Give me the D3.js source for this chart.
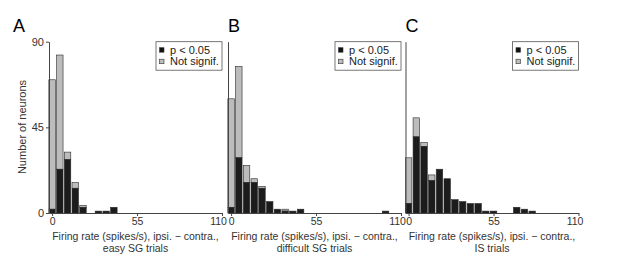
<!DOCTYPE html>
<html>
<head>
<meta charset="utf-8">
<script src="https://cdn.jsdelivr.net/npm/d3@7"></script>
<style>
  body { margin: 0; background: #fff; }
  svg { display: block; font-family: "Liberation Sans", Arial, sans-serif; }
</style>
</head>
<body>
<div id="chart"></div>
<script>
// bin centres (spikes/s), bin width 5
var bins = d3.range(0, 105, 5);

var panelLetters = ['A', 'B', 'C'];
var conditions = ['easy SG trials', 'difficult SG trials', 'IS trials'];

//            0   5  10  15  20  25 30 35 40 45 50 55 60 65 70 75 80 85 90 95 100
var sigA    = [2, 23, 28, 13,  3,  0, 1, 1, 3, 0, 0, 0, 0, 0, 0, 0, 0, 0, 0, 0, 0];
var notSigA = [68, 60, 4,  3,  1,  0, 0, 0, 0, 0, 0, 0, 0, 0, 0, 0, 0, 0, 0, 0, 0];
var sigB    = [3, 29, 16, 16, 13,  6, 2, 1, 1, 2, 0, 0, 0, 0, 0, 0, 0, 0, 0, 0, 1];
var notSigB = [57, 48, 9,  2,  1,  0, 0, 1, 0, 0, 0, 0, 0, 0, 0, 0, 0, 0, 0, 0, 0];
var sigC    = [5, 40, 35, 17, 23, 18, 7, 6, 5, 5, 1, 1, 0, 0, 3, 2, 1, 0, 0, 0, 0];
var notSigC = [24, 10, 2,  3,  0,  0, 0, 0, 0, 0, 0, 0, 0, 0, 0, 0, 0, 0, 0, 0, 0];

var sigAll = [sigA, sigB, sigC];
var notSigAll = [notSigA, notSigB, notSigC];

var xTicks = [0, 55, 110];
var yTicks = [0, 45, 90];
var legendLabels = ['p < 0.05', 'Not signif.'];

var width = 617, height = 275;
var panelLeft = [49, 228, 405.5];
var panelWidth = 173;
var plotTop = 41.7, plotBottom = 213;

var svg = d3.select('#chart')
  .append('svg')
  .attr('width', width)
  .attr('height', height);

var yScale = d3.scaleLinear()
  .domain([0, 90])
  .range([plotBottom, plotTop]);

panelLetters.forEach(function(letter, p) {

  var g = svg.append('g')
    .attr('transform', 'translate(' + panelLeft[p] + ',0)');

  var xScale = d3.scaleLinear()
    .domain([-2, 110])
    .range([0, panelWidth]);

  var barW = xScale(4.2) - xScale(0);

  var rows = bins.map(function(b, i) {
    return { bin: b, sig: sigAll[p][i], ns: notSigAll[p][i] };
  });

  // not significant on top
  g.selectAll('.ns')
    .data(rows.filter(function(d) { return d.ns > 0; }))
    .enter()
    .append('rect')
    .attr('x', function(d) { return xScale(d.bin) - barW / 2; })
    .attr('y', function(d) { return yScale(d.sig + d.ns); })
    .attr('width', barW)
    .attr('height', function(d) { return yScale(d.sig) - yScale(d.sig + d.ns); })
    .attr('fill', '#bcbcbc')
    .attr('stroke', '#2a2a2a')
    .attr('stroke-width', 0.6);

  g.selectAll('.sig')
    .data(rows.filter(function(d) { return d.sig > 0; }))
    .enter()
    .append('rect')
    .attr('x', function(d) { return xScale(d.bin) - barW / 2; })
    .attr('y', function(d) { return yScale(d.sig); })
    .attr('width', barW)
    .attr('height', function(d) { return plotBottom - yScale(d.sig); })
    .attr('fill', '#1c1c1c')
    .attr('stroke', '#2a2a2a')
    .attr('stroke-width', 0.6);

  // x axis
  var xAxis = g.append('g')
    .attr('transform', 'translate(0,' + plotBottom + ')')
    .call(d3.axisBottom(xScale).tickValues(xTicks).tickSize(3).tickPadding(2).tickSizeOuter(0));
  xAxis.select('.domain').attr('stroke', '#444');
  xAxis.selectAll('.tick line').attr('stroke', '#444');
  xAxis.selectAll('text')
    .attr('fill', '#333')
    .attr('dx', function(d) { return d === 110 ? -4 : 0; })
    .style('font-size', '10.5px')
    .style('font-family', '"Liberation Sans", Arial, sans-serif');

  // y axis
  var yAxis = g.append('g')
    .call(d3.axisLeft(yScale).tickValues(p === 0 ? yTicks : []).tickSize(3).tickPadding(2).tickSizeOuter(0));
  yAxis.select('.domain').attr('stroke', '#444');
  yAxis.selectAll('.tick line').attr('stroke', '#444');
  yAxis.selectAll('text')
    .attr('fill', '#333')
    .style('font-size', '11px')
    .style('font-family', '"Liberation Sans", Arial, sans-serif');

  // x label
  var midX = panelWidth / 2;
  g.append('text')
    .attr('x', midX)
    .attr('y', 240)
    .attr('text-anchor', 'middle')
    .attr('fill', '#333')
    .style('font-size', '10.5px')
    .text('Firing rate (spikes/s), ipsi. \u2212 contra.,');
  g.append('text')
    .attr('x', midX)
    .attr('y', 252)
    .attr('text-anchor', 'middle')
    .attr('fill', '#333')
    .style('font-size', '10.5px')
    .text(conditions[p]);

  // panel letter
  g.append('text')
    .attr('x', p === 0 ? -36 : 0)
    .attr('y', 31.5)
    .attr('fill', '#000')
    .style('font-size', '18px')
    .text(letter);

  // legend
  var lw = 66, lh = 28.5;
  var lx = xScale(110) - lw, ly = plotTop;
  var leg = g.append('g').attr('transform', 'translate(' + lx + ',' + ly + ')');
  leg.append('rect')
    .attr('width', lw)
    .attr('height', lh)
    .attr('fill', '#fff')
    .attr('stroke', '#555')
    .attr('stroke-width', 0.8);
  legendLabels.forEach(function(lbl, i) {
    leg.append('rect')
      .attr('x', 3.5)
      .attr('y', 6 + i * 11.5)
      .attr('width', 4.5)
      .attr('height', 4.5)
      .attr('fill', i === 0 ? '#111' : '#bcbcbc')
      .attr('stroke', '#333')
      .attr('stroke-width', 0.6);
    leg.append('text')
      .attr('x', 14)
      .attr('y', 12 + i * 11.5)
      .attr('fill', '#222')
      .style('font-size', '11px')
      .text(lbl);
  });
});

// y label
svg.append('text')
  .attr('transform', 'translate(26,127) rotate(-90)')
  .attr('text-anchor', 'middle')
  .attr('fill', '#333')
  .style('font-size', '11px')
  .text('Number of neurons');
</script>
</body>
</html>
